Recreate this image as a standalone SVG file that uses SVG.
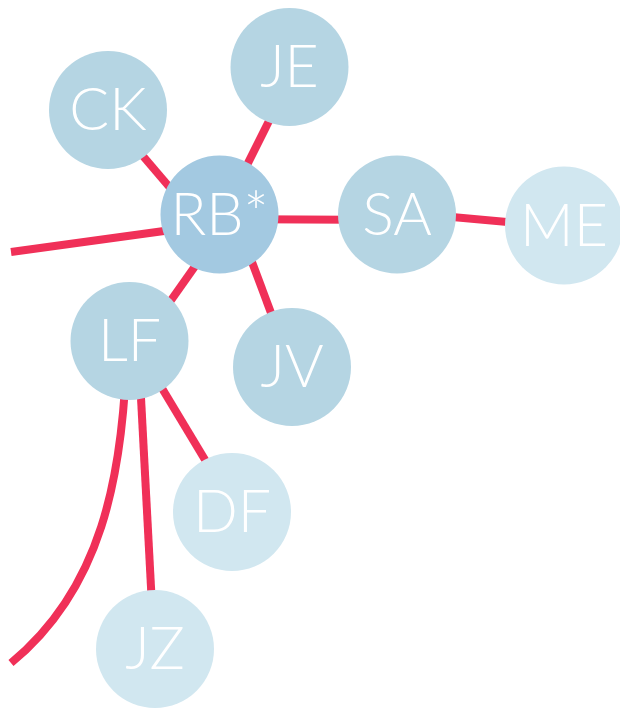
<svg xmlns="http://www.w3.org/2000/svg" width="620" height="708" viewBox="0 0 620 708">
<style>
.edge{stroke:#f03058;stroke-width:8;fill:none;stroke-linecap:butt}
.n{fill:#b5d5e3}
.hub{fill:#a3c9e1}
.lt{fill:#d1e7f0}
.lbl{font-family:Lato,"Open Sans","Liberation Sans",sans-serif;font-weight:300;font-size:59px;fill:#ffffff;text-anchor:middle}
</style>
<rect width="620" height="708" fill="#ffffff"/>
<g id="connectors">
<line class="edge" x1="11" y1="252" x2="215" y2="224"/>
<path class="edge" d="M127,341 C124,480 100,590 11,663"/>
<line class="edge" x1="125" y1="135" x2="195" y2="217"/>
<line class="edge" x1="277" y1="105" x2="236" y2="187"/>
<line class="edge" x1="219" y1="219" x2="397" y2="220"/>
<line class="edge" x1="397" y1="212" x2="564" y2="227"/>
<line class="edge" x1="215" y1="238" x2="150" y2="330"/>
<line class="edge" x1="240" y1="230" x2="280" y2="337"/>
<line class="edge" x1="145" y1="360" x2="225" y2="493"/>
<line class="edge" x1="139" y1="360" x2="153" y2="625"/>
</g>
<g id="CK"><circle class="n" cx="108" cy="110" r="59"/><text class="lbl" x="108" y="130">CK</text></g>
<g id="JE"><circle class="n" cx="289.5" cy="67" r="59"/><text class="lbl" x="289.5" y="87">JE</text></g>
<g id="RB"><circle class="hub" cx="219.5" cy="214.5" r="59"/><text class="lbl" x="219.5" y="234.5">RB*</text></g>
<g id="SA"><circle class="n" cx="397" cy="214.5" r="59"/><text class="lbl" x="397" y="234.5">SA</text></g>
<g id="ME"><circle class="lt" cx="564" cy="225.5" r="59"/><text class="lbl" x="564" y="245.5">ME</text></g>
<g id="LF"><circle class="n" cx="129.5" cy="341" r="59"/><text class="lbl" x="129.5" y="361">LF</text></g>
<g id="JV"><circle class="n" cx="292" cy="367" r="59"/><text class="lbl" x="292" y="387">JV</text></g>
<g id="DF"><circle class="lt" cx="232" cy="512" r="59"/><text class="lbl" x="232" y="532">DF</text></g>
<g id="JZ"><circle class="lt" cx="155" cy="649" r="59"/><text class="lbl" x="155" y="669">JZ</text></g>
</svg>
